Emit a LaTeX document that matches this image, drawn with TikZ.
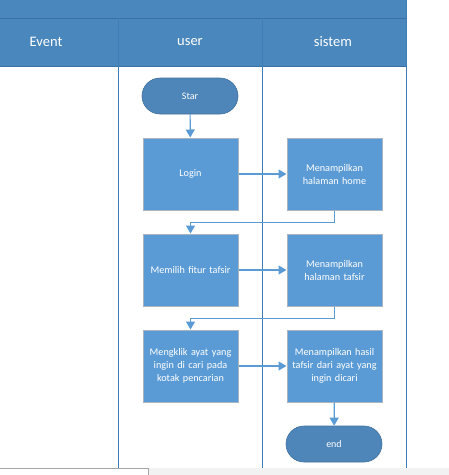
\documentclass[tikz,border=0pt]{standalone}
\usepackage{fontspec}
\setmainfont{Carlito}
\usetikzlibrary{arrows.meta,positioning}
\definecolor{hdr}{HTML}{4A87BC}
\definecolor{hdrline}{HTML}{3A70A3}
\definecolor{boxfill}{HTML}{5B9BD5}
\definecolor{boxedge}{HTML}{A9B4C2}
\definecolor{termfill}{HTML}{4E86BA}
\definecolor{termedge}{HTML}{41719C}
\definecolor{flow}{HTML}{5B9BD5}
\definecolor{lane}{HTML}{3F7CB8}
\tikzset{
  procbox/.style={draw=boxedge, line width=1pt, fill=boxfill, minimum width=95pt, minimum height=72pt,
    text=white, align=center, font=\fontsize{10.2}{13}\selectfont, inner sep=1pt, text width=93pt},
  termbox/.style={draw=termedge, line width=0.6pt, fill=termfill, minimum width=96pt, minimum height=36pt,
    rounded corners=18pt, text=white, font=\fontsize{10}{12}\selectfont},
  flowline/.style={draw=flow, line width=1.2pt, -{Triangle[width=9pt,length=8pt]}},
  laneline/.style={draw=lane, line width=1pt},
  hdrtext/.style={text=white, font=\fontsize{14.5}{16}\selectfont}
}
\begin{document}
\begin{tikzpicture}[x=1pt,y=-1pt]
\useasboundingbox (0,0) rectangle (449,475);
\fill[white] (0,0) rectangle (449,475);
% header
\fill[hdr] (0,0) rectangle (406,66);
\draw[hdrline, line width=0.8pt] (0,18) -- (406,18);
\draw[hdrline, line width=0.8pt] (0,66) -- (406,66);
% lanes
\draw[laneline] (118,18) -- (118,468);
\draw[laneline] (262,18) -- (262,468);
\draw[laneline] (406,0) -- (406,468);
\node[hdrtext] (hEvent) at (46,42) {Event};
\node[hdrtext] (hUser) at (190,42) {user};
\node[hdrtext] (hSistem) at (333,42) {sistem};
% nodes
\node[termbox] (star) at (190,96) {Star};
\node[procbox] (login) at (190.5,174) {Login};
\node[procbox] (home) at (334.5,174) {Menampilkan\\halaman home};
\node[procbox] (fitur) at (190.5,270) {Memilih fitur tafsir};
\node[procbox] (tafsir) at (334.5,270) {Menampilkan\\halaman tafsir};
\node[procbox] (klik) at (190.5,366) {Mengklik ayat yang\\ingin di cari pada\\kotak pencarian};
\node[procbox] (hasil) at (334.5,366) {Menampilkan hasil\\tafsir dari ayat yang\\ingin dicari};
\node[termbox] (end) at (334,444) {end};
% connectors
\draw[flowline] (star) -- (login);
\draw[flowline] (login) -- (home);
\draw[flowline] (home.south) -- ++(0,12) -| (fitur.north);
\draw[flowline] (fitur) -- (tafsir);
\draw[flowline] (tafsir.south) -- ++(0,12) -| (klik.north);
\draw[flowline] (klik) -- (hasil);
\draw[flowline] (hasil) -- (end);
% bottom screen band
\fill[black!5] (149,468) rectangle (449,475);
\draw[black!35, line width=0.8pt] (0,468.5) -- (148.5,468.5) -- (148.5,475);
\end{tikzpicture}
\end{document}
